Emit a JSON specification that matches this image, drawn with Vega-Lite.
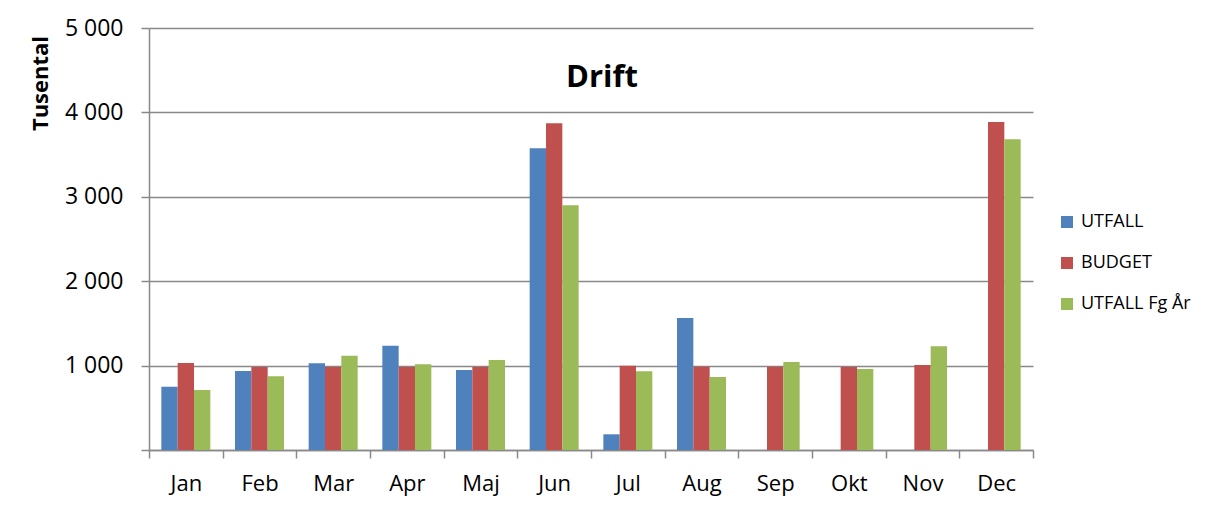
{
  "$schema": "https://vega.github.io/schema/vega-lite/v6.json",
  "width": 884,
  "height": 422,
  "autosize": {"type": "none"},
  "padding": {"left": 149, "top": 28, "right": 181, "bottom": 60},
  "background": "white",
  "title": {"text": "Drift", "fontSize": 31, "font": "Open Sans", "fontWeight": "bold", "color": "black", "anchor": "middle", "frame": "group", "offset": -77, "dx": 11},
  "data": {"values": [
    {"Manad": "Jan", "Serie": "UTFALL", "Belopp": 750},
    {"Manad": "Jan", "Serie": "BUDGET", "Belopp": 1031},
    {"Manad": "Jan", "Serie": "UTFALL Fg År", "Belopp": 711},
    {"Manad": "Feb", "Serie": "UTFALL", "Belopp": 936},
    {"Manad": "Feb", "Serie": "BUDGET", "Belopp": 983},
    {"Manad": "Feb", "Serie": "UTFALL Fg År", "Belopp": 873},
    {"Manad": "Mar", "Serie": "UTFALL", "Belopp": 1027},
    {"Manad": "Mar", "Serie": "BUDGET", "Belopp": 983},
    {"Manad": "Mar", "Serie": "UTFALL Fg År", "Belopp": 1118},
    {"Manad": "Apr", "Serie": "UTFALL", "Belopp": 1236},
    {"Manad": "Apr", "Serie": "BUDGET", "Belopp": 983},
    {"Manad": "Apr", "Serie": "UTFALL Fg År", "Belopp": 1015},
    {"Manad": "Maj", "Serie": "UTFALL", "Belopp": 948},
    {"Manad": "Maj", "Serie": "BUDGET", "Belopp": 983},
    {"Manad": "Maj", "Serie": "UTFALL Fg År", "Belopp": 1066},
    {"Manad": "Jun", "Serie": "UTFALL", "Belopp": 3575},
    {"Manad": "Jun", "Serie": "BUDGET", "Belopp": 3871},
    {"Manad": "Jun", "Serie": "UTFALL Fg År", "Belopp": 2899},
    {"Manad": "Jul", "Serie": "UTFALL", "Belopp": 186},
    {"Manad": "Jul", "Serie": "BUDGET", "Belopp": 999},
    {"Manad": "Jul", "Serie": "UTFALL Fg År", "Belopp": 932},
    {"Manad": "Aug", "Serie": "UTFALL", "Belopp": 1564},
    {"Manad": "Aug", "Serie": "BUDGET", "Belopp": 987},
    {"Manad": "Aug", "Serie": "UTFALL Fg År", "Belopp": 865},
    {"Manad": "Sep", "Serie": "BUDGET", "Belopp": 987},
    {"Manad": "Sep", "Serie": "UTFALL Fg År", "Belopp": 1043},
    {"Manad": "Okt", "Serie": "BUDGET", "Belopp": 983},
    {"Manad": "Okt", "Serie": "UTFALL Fg År", "Belopp": 960},
    {"Manad": "Nov", "Serie": "BUDGET", "Belopp": 1007},
    {"Manad": "Nov", "Serie": "UTFALL Fg År", "Belopp": 1228},
    {"Manad": "Dec", "Serie": "BUDGET", "Belopp": 3886},
    {"Manad": "Dec", "Serie": "UTFALL Fg År", "Belopp": 3681}
  ]},
  "mark": {"type": "bar"},
  "encoding": {
    "x": {
      "field": "Manad", "type": "nominal",
      "sort": ["Jan", "Feb", "Mar", "Apr", "Maj", "Jun", "Jul", "Aug", "Sep", "Okt", "Nov", "Dec"],
      "scale": {"paddingInner": 0.335, "paddingOuter": 0.1675},
      "axis": {"title": null, "labelAngle": 0, "bandPosition": 1.5038, "tickExtra": true, "tickOffset": -12.34, "labelOffset": 12.34, "tickSize": 8, "labelPadding": 15, "labelFontSize": 22, "labelColor": "black", "domainColor": "#898989", "domainWidth": 1.5, "tickColor": "#898989", "tickWidth": 1.5, "grid": false}
    },
    "xOffset": {"field": "Serie", "type": "nominal", "sort": ["UTFALL", "BUDGET", "UTFALL Fg År"]},
    "y": {
      "field": "Belopp", "type": "quantitative",
      "scale": {"domain": [0, 5000], "nice": false},
      "axis": {
        "title": "Tusental", "values": [0, 1000, 2000, 3000, 4000, 5000],
        "labelExpr": "datum.value == 0 ? '' : replace(format(datum.value, ','), ',', ' ')",
        "labelFontSize": 23, "labelColor": "black", "tickSize": 8, "labelPadding": 18,
        "gridColor": "#898989", "gridWidth": 1.5, "domainColor": "#898989", "domainWidth": 1.5, "tickColor": "#898989", "tickWidth": 1.5,
        "titleFontSize": 22, "titleFontWeight": "bold", "titleColor": "black", "titleX": -109, "titleY": 55, "titleAngle": -90, "titleAlign": "center", "titleBaseline": "middle"
      }
    },
    "color": {
      "field": "Serie", "type": "nominal",
      "sort": ["UTFALL", "BUDGET", "UTFALL Fg År"],
      "scale": {"domain": ["UTFALL", "BUDGET", "UTFALL Fg År"], "range": ["#4F81BD", "#C0504D", "#9BBB59"]},
      "legend": {"orient": "none", "legendX": 909, "legendY": 185, "title": null, "symbolType": "square", "symbolSize": 144, "labelFontSize": 18, "labelColor": "black", "rowPadding": 23, "labelOffset": 5}
    }
  },
  "config": {"view": {"stroke": null}, "font": "Open Sans"}
}
